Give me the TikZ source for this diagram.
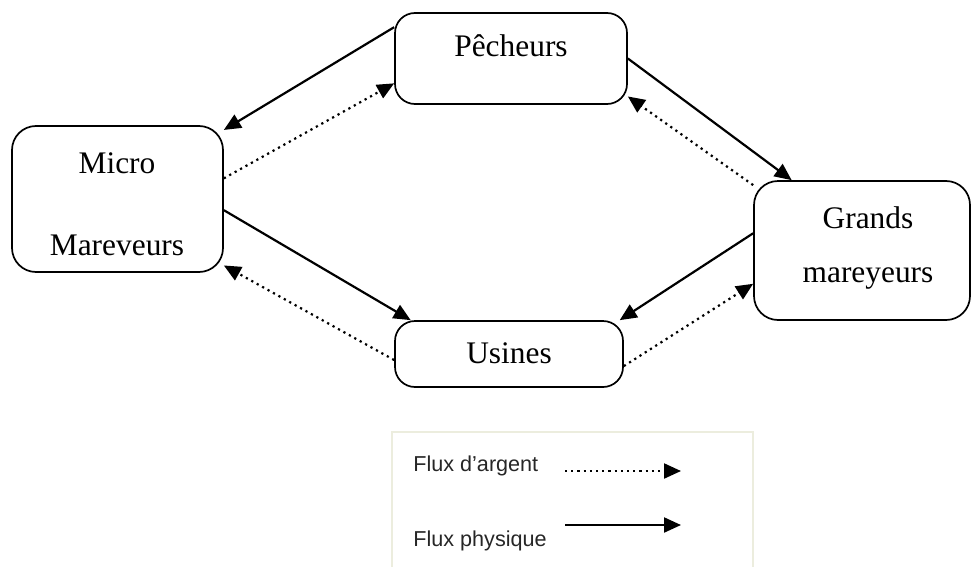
\documentclass[tikz,border=0pt]{standalone}
\usepackage{fontspec}
\setmainfont{Liberation Serif}
\newfontfamily\legfont{Liberation Sans}
\usetikzlibrary{arrows.meta}

\begin{document}
\begin{tikzpicture}[x=0.5pt, y=-0.5pt,
	box/.style={draw, line width=0.85pt, rounded corners=10pt, inner sep=0pt},
	txt/.style={anchor=base, inner sep=0pt, font=\fontsize{15.7}{18}\selectfont},
	leg/.style={anchor=base west, inner sep=0pt, text=black!85, font=\legfont\fontsize{10.8}{13}\selectfont},
	phys/.style={line width=1.1pt, -{Triangle[length=8.5pt,width=7.5pt]}},
	arg/.style={line width=1.1pt, dash pattern=on 1.1pt off 2pt, -{Triangle[length=8.5pt,width=7.5pt]}}]
	\useasboundingbox (0,0) rectangle (972,567);

	% acteurs
	\node[box, minimum width=116pt, minimum height=45.5pt] (pech) at (511,58.5) {};
	\node[box, minimum width=105.5pt, minimum height=73pt, rounded corners=12pt] (micro) at (117.5,199) {};
	\node[box, minimum width=108pt, minimum height=69.5pt, rounded corners=12pt] (grands) at (862,250.5) {};
	\node[box, minimum width=114pt, minimum height=33pt] (usines) at (509,354) {};

	\node[txt] (pechT) at (511,57) {Pêcheurs};
	\node[txt] (microT) at (117,173) {Micro};
	\node[txt] (mareT) at (117,255) {Mareveurs};
	\node[txt] (grandsT) at (868,228) {Grands};
	\node[txt] (mareyT) at (868,282) {mareyeurs};
	\node[txt] (usinesT) at (509,363) {Usines};

	% flux physique
	\draw[phys] (pech.165) -- (micro.33);
	\draw[phys] (micro.-6) -- (usines.161);
	\draw[phys] (pech.east) -- (grands.135);
	\draw[phys] (grands.171) -- (usines.17);

	% flux d'argent
	\draw[arg] (micro.11) -- (pech.-168);
	\draw[arg] (usines.183) -- (micro.-32);
	\draw[arg] (grands.149) -- (pech.-18);
	\draw[arg] (usines.-6) -- (grands.-163);

	% legende
	\draw[line width=1pt, color={rgb,255:red,236;green,237;blue,222}]
		(392,567) -- (392,432) -- (753,432) -- (753,567);
	\node[leg] (legArg) at (413,471) {Flux d’argent};
	\node[leg] (legPhys) at (413,546) {Flux physique};
	\coordinate (argA) at (565,471);
	\coordinate (argB) at (681,471);
	\coordinate (physA) at (565,525);
	\coordinate (physB) at (681,525);
	\draw[arg] (argA) -- (argB);
	\draw[phys] (physA) -- (physB);
\end{tikzpicture}
\end{document}
